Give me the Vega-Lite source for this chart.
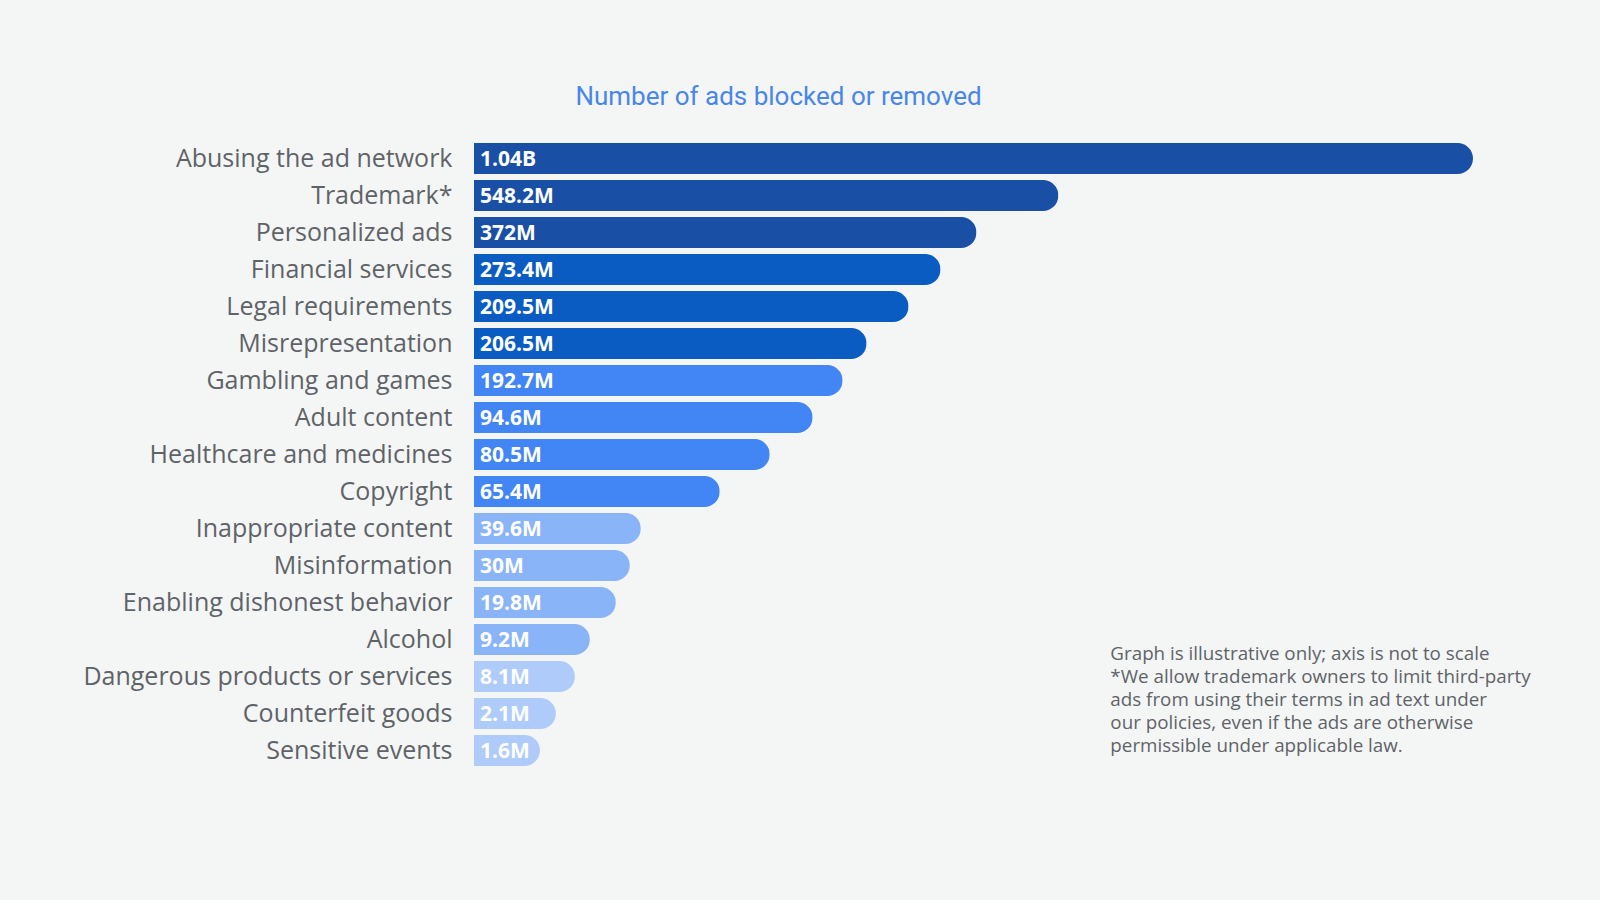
{
  "$schema": "https://vega.github.io/schema/vega-lite/v6.json",
  "width": 999,
  "height": 629,
  "autosize": "none",
  "padding": {"left": 474, "top": 140, "right": 127, "bottom": 131},
  "background": "#f4f6f6",
  "config": {
    "view": {"stroke": null},
    "font": "Open Sans"
  },
  "title": {
    "text": "Number of ads blocked or removed",
    "color": "#4a86e8",
    "fontSize": 26,
    "fontWeight": "normal",
    "font": "Roboto",
    "anchor": "middle",
    "dx": -195,
    "offset": 30
  },
  "data": {
    "values": [
      {"category": "Abusing the ad network", "value_millions": 1040, "label": "1.04B", "length_not_to_scale": 100},
      {"category": "Trademark*", "value_millions": 548.2, "label": "548.2M", "length_not_to_scale": 58.5},
      {"category": "Personalized ads", "value_millions": 372, "label": "372M", "length_not_to_scale": 50.3},
      {"category": "Financial services", "value_millions": 273.4, "label": "273.4M", "length_not_to_scale": 46.7},
      {"category": "Legal requirements", "value_millions": 209.5, "label": "209.5M", "length_not_to_scale": 43.5},
      {"category": "Misrepresentation", "value_millions": 206.5, "label": "206.5M", "length_not_to_scale": 39.3},
      {"category": "Gambling and games", "value_millions": 192.7, "label": "192.7M", "length_not_to_scale": 36.9},
      {"category": "Adult content", "value_millions": 94.6, "label": "94.6M", "length_not_to_scale": 33.9},
      {"category": "Healthcare and medicines", "value_millions": 80.5, "label": "80.5M", "length_not_to_scale": 29.6},
      {"category": "Copyright", "value_millions": 65.4, "label": "65.4M", "length_not_to_scale": 24.6},
      {"category": "Inappropriate content", "value_millions": 39.6, "label": "39.6M", "length_not_to_scale": 16.7},
      {"category": "Misinformation", "value_millions": 30, "label": "30M", "length_not_to_scale": 15.6},
      {"category": "Enabling dishonest behavior", "value_millions": 19.8, "label": "19.8M", "length_not_to_scale": 14.2},
      {"category": "Alcohol", "value_millions": 9.2, "label": "9.2M", "length_not_to_scale": 11.6},
      {"category": "Dangerous products or services", "value_millions": 8.1, "label": "8.1M", "length_not_to_scale": 10.1},
      {"category": "Counterfeit goods", "value_millions": 2.1, "label": "2.1M", "length_not_to_scale": 8.2},
      {"category": "Sensitive events", "value_millions": 1.6, "label": "1.6M", "length_not_to_scale": 6.6}
    ]
  },
  "encoding": {
    "y": {
      "field": "category",
      "type": "nominal",
      "sort": null,
      "scale": {"paddingInner": 0.16, "paddingOuter": 0.08},
      "axis": {
        "title": null,
        "ticks": false,
        "domain": false,
        "grid": false,
        "labelFontSize": 25,
        "labelColor": "#5f6368",
        "labelPadding": 22,
        "labelFont": "Open Sans",
        "labelOffset": 0,
        "labelLimit": 500
      }
    }
  },
  "layer": [
    {
      "mark": {"type": "bar", "cornerRadiusEnd": 15.5},
      "encoding": {
        "x": {
          "field": "length_not_to_scale",
          "type": "quantitative",
          "scale": {"domain": [0, 100], "nice": false},
          "axis": null
        },
        "color": {
          "field": "value_millions",
          "type": "quantitative",
          "scale": {
            "type": "threshold",
            "domain": [8.5, 50, 200, 300],
            "range": ["#aecbfa", "#8ab4f8", "#4285f4", "#0b5cc2", "#1a4fa6"]
          },
          "legend": null
        }
      }
    },
    {
      "mark": {"type": "text", "align": "left", "baseline": "middle", "dx": 6, "dy": 1, "fontWeight": "bold", "fontSize": 21, "color": "white", "font": "Open Sans"},
      "encoding": {
        "x": {"datum": 0, "type": "quantitative"},
        "text": {"field": "label"}
      }
    },
    {
      "data": {"values": [{"note": "Graph is illustrative only; axis is not to scale\n*We allow trademark owners to limit third-party\nads from using their terms in ad text under\nour policies, even if the ads are otherwise\npermissible under applicable law."}]},
      "mark": {"type": "text", "align": "left", "baseline": "top", "lineBreak": "\n", "lineHeight": 23, "fontSize": 18.8, "color": "#5f6368", "font": "Open Sans", "dy": 5},
      "encoding": {
        "x": {"datum": 63.7, "type": "quantitative"},
        "y": {"datum": "Alcohol", "type": "nominal"},
        "text": {"field": "note"}
      }
    }
  ]
}
